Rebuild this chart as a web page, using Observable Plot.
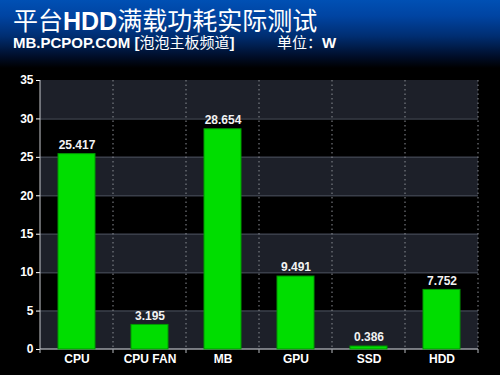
<!DOCTYPE html>
<html><head><meta charset="utf-8">
<script src="https://cdn.jsdelivr.net/npm/d3@7"></script>
<script src="https://cdn.jsdelivr.net/npm/@observablehq/plot@0.6"></script>
<style>
html,body{margin:0;padding:0;background:#000;width:500px;height:375px;overflow:hidden;}
#wrap{position:relative;width:500px;height:375px;background:linear-gradient(to bottom,#0050b4 0px,#0044a2 16px,#002e72 36px,#000e2a 56px,#000 68px);}
#title{position:absolute;left:13px;top:6px;color:#fff;font-family:"Liberation Sans","Noto Sans CJK SC",sans-serif;font-size:25px;line-height:30px;white-space:nowrap;}
#title b{font-weight:bold;}
#sub{position:absolute;left:13px;top:35px;color:#fff;font-family:"Liberation Sans","Noto Sans CJK SC",sans-serif;font-size:15px;font-weight:bold;line-height:16px;white-space:nowrap;}
#sub .cn{font-weight:normal;}
#unit{position:absolute;left:277px;top:35px;color:#fff;font-family:"Liberation Sans","Noto Sans CJK SC",sans-serif;font-size:15px;line-height:16px;white-space:nowrap;}
#chart{position:absolute;left:0;top:62px;}
</style></head>
<body>
<div id="wrap">
<div id="title">平台<b>HDD</b>满载功耗实际测试</div>
<div id="sub">MB.PCPOP.COM [<span class="cn">泡泡主板频道</span>]</div>
<div id="unit">单位：<b>W</b></div>
<div id="chart"></div>
</div>
<script>
const categories = ["CPU", "CPU FAN", "MB", "GPU", "SSD", "HDD"];
const values = [25.417, 3.195, 28.654, 9.491, 0.386, 7.752];
const yTicks = [0, 5, 10, 15, 20, 25, 30, 35];
const labels = ["25.417", "3.195", "28.654", "9.491", "0.386", "7.752"];

const data = categories.map((c, i) => ({cat: c, value: values[i], label: labels[i]}));
const bands = yTicks.filter((t, i) => i % 2 === 0 && i < yTicks.length - 1).map(t => ({y1: t, y2: t + 5}));

function separators(index, scales, values, dims) {
  const x = scales.x, y = scales.y;
  const step = typeof x.step === "function" ? x.step() : (dims.width - dims.marginLeft - dims.marginRight) / categories.length;
  const bw = typeof x.bandwidth === "function" ? x.bandwidth() : step / 2;
  const xs = categories.map(c => x(c) + bw / 2 - step / 2);
  xs.push(xs[xs.length - 1] + step);
  const g = d3.create("svg:g");
  const y0 = y(0), y1 = y(35);
  xs.forEach((xx, i) => {
    if (i > 0) {
      g.append("line").attr("x1", xx).attr("x2", xx).attr("y1", y1).attr("y2", y0)
        .attr("stroke", "#8a8d94").attr("stroke-width", 1).attr("stroke-dasharray", "1.5,3");
    }
    g.append("line").attr("x1", xx).attr("x2", xx).attr("y1", y0).attr("y2", y0 + 4)
      .attr("stroke", "#b8bbc0").attr("stroke-width", 1);
  });
  g.append("line").attr("x1", xs[0]).attr("x2", xs[xs.length - 1]).attr("y1", y0).attr("y2", y0)
    .attr("stroke", "#9a9da3").attr("stroke-width", 1.5);
  g.append("line").attr("x1", xs[0]).attr("x2", xs[0]).attr("y1", y1).attr("y2", y0)
    .attr("stroke", "#c8cacf").attr("stroke-width", 1);
  return g.node();
}

const chart = Plot.plot({
  width: 500,
  height: 313,
  marginLeft: 40,
  marginRight: 22,
  marginTop: 18,
  marginBottom: 26,
  style: {background: "transparent", color: "#fff", fontFamily: "Liberation Sans, Arial, sans-serif", fontSize: "12px", fontWeight: "bold"},
  x: {domain: categories, paddingInner: 0.5, paddingOuter: 0.25, align: 0.5, label: null, tickSize: 0, tickPadding: 5},
  y: {domain: [0, 35], ticks: yTicks, label: null, tickSize: 4, tickPadding: 3, tickFormat: d => d},
  marks: [
    Plot.rect(bands, {y1: "y1", y2: "y2", fill: "#1d2029"}),
    Plot.ruleY(yTicks.filter(t => t > 0 && t < 35), {stroke: "#3a3f4a", strokeWidth: 1.5}),
    separators,
    Plot.barY(data, {x: "cat", y: "value", fill: "#00dd00", stroke: "#009a00", strokeWidth: 1}),
    Plot.text(data, {x: "cat", y: "value", text: "label", dy: -9, fill: "#f2f2f2", fontSize: 12, fontWeight: "bold"})
  ]
});
document.getElementById("chart").appendChild(chart);
</script>
</body></html>
